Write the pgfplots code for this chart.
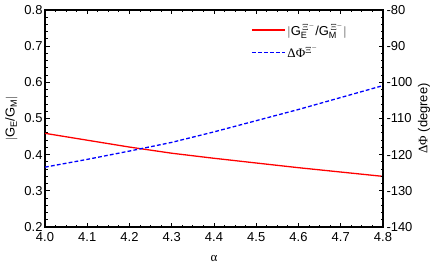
\documentclass[border=0pt]{standalone}
\usepackage{pgfplots}
\pgfplotsset{compat=1.18}
\usepackage{fontspec}
\setmainfont{Liberation Sans}
\newfontfamily\grk{Liberation Serif}
\begin{document}
\begin{tikzpicture}
\pgfplotsset{
  common/.style={
    width=338bp, height=217bp, scale only axis,
    xmin=4.0, xmax=4.8,
    xtick={4.0,4.1,...,4.8},
    minor x tick num=3,
    minor y tick num=4,
    tick align=inside,
    major tick length=4.5bp, minor tick length=2.5bp,
    every tick/.style={black, line width=1pt},
    axis line style={line width=1.3pt},
    tick label style={font=\fontsize{13}{15}\selectfont},
    label style={font=\fontsize{13}{15}\selectfont},
    /pgf/number format/assume math mode=true,
    /pgf/number format/fixed,
    /pgf/number format/fixed zerofill,
    /pgf/number format/precision=1,
    xticklabel style={yshift=-2bp},
  }
}
\begin{axis}[common, name=main,
  ymin=0.2, ymax=0.8,
  ytick={0.2,0.3,...,0.8},
  ytick pos=left, xtick pos=both,
  yticklabel style={xshift=1bp},
  xlabel={{\grk α}},
  ylabel={$|$G$_{\mathrm{E}}$/G$_{\mathrm{M}}|$},
  xlabel style={at={(axis description cs:0.5,-0.143)}, anchor=center},
  ylabel style={at={(axis description cs:-0.099,0.5)}, anchor=center},
]
\addplot[red, line width=1.3pt] coordinates {
(4.0,0.459) (4.1,0.440) (4.2,0.421) (4.3,0.404) (4.4,0.390)
(4.5,0.377) (4.6,0.364) (4.7,0.352) (4.8,0.340)};
\end{axis}
\begin{axis}[common,
  ymin=-140, ymax=-80,
  ytick={-140,-130,...,-80},
  axis y line*=right, axis x line=none,
  yticklabel style={/pgf/number format/precision=0, /pgf/number format/fixed zerofill=false},
  ylabel={{\grk ΔΦ} (degree)},
  ylabel style={at={(axis description cs:1.121,0.5)}, anchor=center, rotate=0},
  legend style={at={(0.908,0.958)}, anchor=north east, draw=none, fill=none,
    font=\fontsize{13}{15}\selectfont, row sep=5bp},
  legend cell align=left,
  legend image code/.code={\draw[#1] (0bp,0bp) -- (33bp,0bp);},
]
\addlegendimage{red, line width=1.3pt}
\addlegendentry{$|$G$_{\mathrm{E}}^{\,\Xi^-}$/G$_{\mathrm{M}}^{\,\Xi^-}|$}
\addplot[blue, line width=1.3pt, dash pattern=on 3.8bp off 2.2bp] coordinates {
(4.0,-123.45) (4.1,-121.3) (4.2,-119.0) (4.3,-116.6) (4.4,-113.7)
(4.5,-110.6) (4.6,-107.5) (4.7,-104.2) (4.8,-100.9)};
\addlegendentry{{\grk ΔΦ}$^{\Xi^-}$}
\end{axis}
\pgfresetboundingbox
\path ([xshift=-45bp,yshift=-40bp]main.south west) rectangle ([xshift=53bp,yshift=10bp]main.north east);
\end{tikzpicture}
\end{document}
